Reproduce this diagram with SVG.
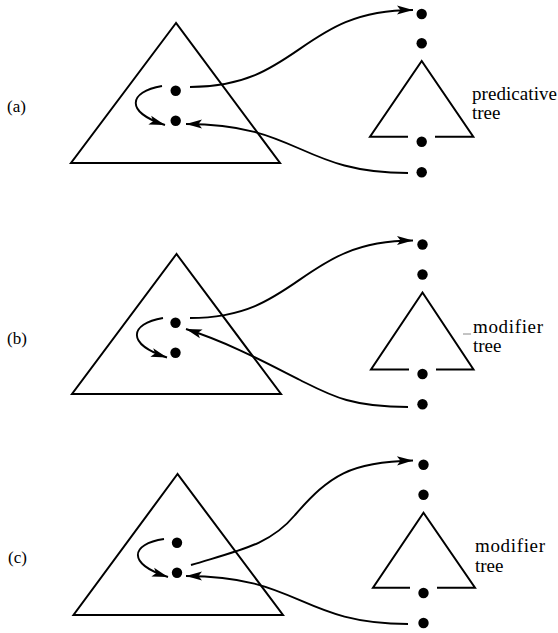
<svg xmlns="http://www.w3.org/2000/svg" width="558" height="633" viewBox="0 0 558 633">
<style>
.tri{fill:none;stroke:#000;stroke-width:2;stroke-linejoin:miter}
.ln{fill:none;stroke:#000;stroke-width:2}
.dot{fill:#000}
.con{fill:none;stroke:#000;stroke-width:1.9}
.lbl{font-family:"Liberation Serif","Times New Roman",serif;font-size:17px;fill:#000}
.tl{font-family:"Liberation Serif","Times New Roman",serif;font-size:19px;fill:#000}
</style>
<defs>
<marker id="ah" markerUnits="userSpaceOnUse" markerWidth="20" markerHeight="12" viewBox="-17 -6 18 12" refX="0" refY="0" orient="auto">
<path d="M0,0 L-16,-4.6 L-12.5,0 L-16,4.6 Z" fill="#000"/>
</marker>
</defs>
<rect width="558" height="633" fill="#fff"/>

<!-- Panel (a) -->
<g id="a-label"><text class="lbl" x="7" y="112">(a)</text></g>
<g id="a-tree"><polygon class="tri" points="176,23 71,163 280,163"/></g>
<g id="a-n1"><circle class="dot" cx="175.7" cy="90.7" r="5.2"/></g>
<g id="a-n2"><circle class="dot" cx="175.7" cy="120.7" r="5.2"/></g>
<g id="a-r1"><circle class="dot" cx="421.7" cy="14" r="5.2"/></g>
<g id="a-r2"><circle class="dot" cx="421.7" cy="43.3" r="5.2"/></g>
<g id="a-predtree">
<path class="ln" d="M408,136.7 L370,136.7 L421.7,61 L473.3,136.7 L435,136.7"/>
<circle class="dot" cx="421.7" cy="141.7" r="5.2"/>
<text class="tl" x="472" y="100" textLength="85" lengthAdjust="spacing">predicative</text>
<text class="tl" x="472" y="119">tree</text>
</g>
<g id="a-r3"><circle class="dot" cx="421.7" cy="172.3" r="5.2"/></g>

<!-- Panel (b) -->
<g id="b-label"><text class="lbl" x="7" y="344">(b)</text></g>
<g id="b-tree"><polygon class="tri" points="176.5,254 72,394 281,394"/></g>
<g id="b-n1"><circle class="dot" cx="175.5" cy="322.7" r="5.2"/></g>
<g id="b-n2"><circle class="dot" cx="175.5" cy="352.7" r="5.2"/></g>
<g id="b-r1"><circle class="dot" cx="422.5" cy="244.5" r="5.2"/></g>
<g id="b-r2"><circle class="dot" cx="422.5" cy="274.5" r="5.2"/></g>
<g id="b-modtree">
<path class="ln" d="M409,369.5 L371,369.5 L422.5,292.5 L473.5,369.5 L436,369.5"/>
<circle class="dot" cx="422.5" cy="374" r="5.2"/>
<line x1="463" y1="334" x2="471" y2="334" stroke="#888" stroke-width="1"/>
<text class="tl" x="473" y="333" textLength="70" lengthAdjust="spacing">modifier</text>
<text class="tl" x="473" y="352">tree</text>
</g>
<g id="b-r3"><circle class="dot" cx="422.5" cy="404.3" r="5.2"/></g>

<!-- Panel (c) -->
<g id="c-label"><text class="lbl" x="8" y="563">(c)</text></g>
<g id="c-tree"><polygon class="tri" points="177.5,474 73.5,615 283,615"/></g>
<g id="c-n1"><circle class="dot" cx="177" cy="542.7" r="5.2"/></g>
<g id="c-n2"><circle class="dot" cx="177" cy="572.7" r="5.2"/></g>
<g id="c-r1"><circle class="dot" cx="423.5" cy="464.7" r="5.2"/></g>
<g id="c-r2"><circle class="dot" cx="423.5" cy="494.7" r="5.2"/></g>
<g id="c-modtree">
<path class="ln" d="M410,587.7 L373,587.7 L423.5,512.7 L475,587.7 L437,587.7"/>
<circle class="dot" cx="423.5" cy="593" r="5.2"/>
<text class="tl" x="475" y="552" textLength="70" lengthAdjust="spacing">modifier</text>
<text class="tl" x="475" y="572">tree</text>
</g>
<g id="c-r3"><circle class="dot" cx="423.5" cy="623" r="5.2"/></g>

<!-- Connectors -->
<g id="connectors">
<path class="con" marker-end="url(#ah)" d="M190,87 C300,87 300,10 413,10"/>
<path class="con" marker-end="url(#ah)" d="M408,173 C300,173 300,124 186,124"/>
<path class="con" marker-end="url(#ah)" d="M162,86 C128,92 125,112 165,125"/>

<path class="con" marker-end="url(#ah)" d="M190,318 C300,318 300,240.5 413,240.5"/>
<path class="con" marker-end="url(#ah)" d="M408,407 C350,407 330,395 300,380 C270,365 230,343 186,329"/>
<path class="con" marker-end="url(#ah)" d="M163,318 C129,324 126,344 167,357.5"/>

<path class="con" marker-end="url(#ah)" d="M191,565 C240,550 270,545 295,515 C330,475 350,462 413,460.5"/>
<path class="con" marker-end="url(#ah)" d="M408,624 C300,624 300,576 186,576"/>
<path class="con" marker-end="url(#ah)" d="M164,539 C130,544 127,564 168,577"/>
</g>
</svg>
